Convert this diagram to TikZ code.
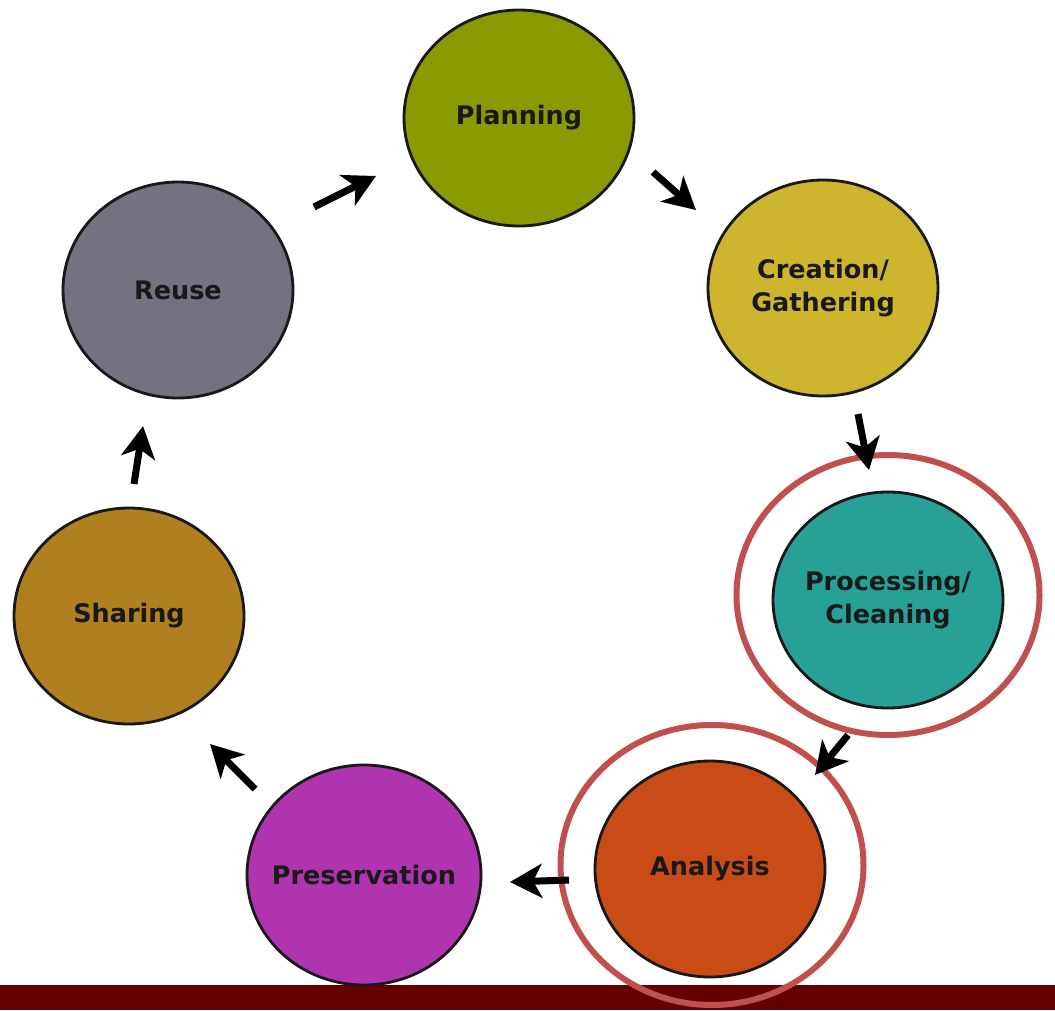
\documentclass[tikz,border=0pt]{standalone}
\usepackage{fontspec}
\setmainfont{DejaVu Sans}
\usetikzlibrary{shapes.geometric,arrows.meta}

\definecolor{planC}{HTML}{8A9A02}
\definecolor{creaC}{HTML}{CDB52E}
\definecolor{procC}{HTML}{27A096}
\definecolor{anaC}{HTML}{C94C17}
\definecolor{presC}{HTML}{B034B0}
\definecolor{shareC}{HTML}{B08020}
\definecolor{reuseC}{HTML}{727280}
\definecolor{ringC}{HTML}{C0504D}
\definecolor{barC}{HTML}{660000}

\tikzset{
  stage/.style={ellipse,draw=black!90,line width=2.8pt,minimum width=230pt,minimum height=216pt,
    inner sep=-40pt,align=center,text=black!90,font=\bfseries\fontsize{25.5}{33}\selectfont},
  flow/.style={line width=7pt,-{Stealth[length=32pt,width=34pt,inset=9pt]}},
  ring/.style={ellipse,draw=ringC,line width=6pt,minimum width=303pt,minimum height=280pt,inner sep=0pt}
}

\begin{document}
\begin{tikzpicture}[x=1pt,y=-1pt]
  \useasboundingbox (0,0) rectangle (1055,1010);
  \fill[barC] (0,985) rectangle (1055,1010);
  % stages
  \node[stage,fill=planC] (planning) at (519,118) {Planning};
  \node[stage,fill=creaC] (creation) at (823,288) {Creation/\\Gathering};
  \node[stage,fill=procC] (processing) at (888,600) {Processing/\\Cleaning};
  \node[stage,fill=anaC] (analysis) at (710,869) {Analysis};
  \node[stage,fill=presC,minimum width=234pt,minimum height=220pt] (preservation) at (364,875) {Preservation};
  \node[stage,fill=shareC] (sharing) at (129,616) {Sharing};
  \node[stage,fill=reuseC] (reuse) at (178,290) {Reuse};
  % highlight rings
  \node[ring] (procring) at (888,595) {};
  \node[ring] (anaring) at (712,865) {};
  % arrow ends
  \coordinate (a1) at (314,207); \coordinate (b1) at (376,176);
  \coordinate (a2) at (653,172); \coordinate (b2) at (696,210);
  \coordinate (a3) at (858,414); \coordinate (b3) at (869,470);
  \coordinate (a4) at (848,735); \coordinate (b4) at (815,775);
  \coordinate (a5) at (569,880); \coordinate (b5) at (510,882);
  \coordinate (a6) at (255,789); \coordinate (b6) at (210,744);
  \coordinate (a7) at (134,484); \coordinate (b7) at (143,426);
  \foreach \i in {1,...,7}
    \draw[flow] (a\i) -- (b\i);
\end{tikzpicture}
\end{document}
